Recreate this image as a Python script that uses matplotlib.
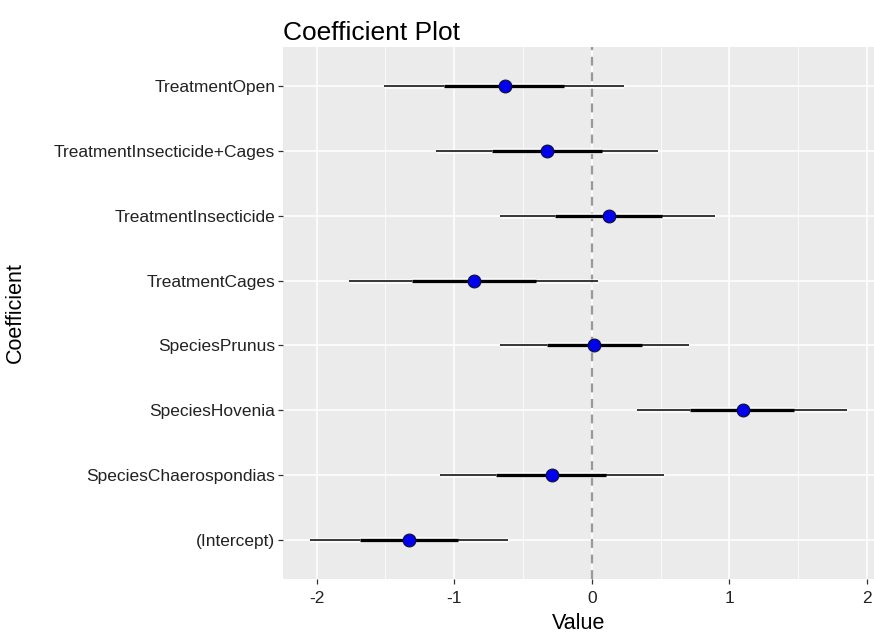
import matplotlib.pyplot as plt
import matplotlib.patheffects as pe
import numpy as np

plt.rcParams["font.family"] = ["Liberation Sans", "DejaVu Sans"]
plt.rcParams["axes.unicode_minus"] = False

# coefficient estimates, bottom to top
coefs = ["(Intercept)", "SpeciesChaerospondias", "SpeciesHovenia", "SpeciesPrunus",
         "TreatmentCages", "TreatmentInsecticide", "TreatmentInsecticide+Cages", "TreatmentOpen"]
value = [-1.326, -0.29, 1.096, 0.019, -0.858, 0.126, -0.323, -0.633]
inner_lo = [-1.688, -0.699, 0.712, -0.326, -1.31, -0.268, -0.729, -1.071]
inner_hi = [-0.973, 0.104, 1.471, 0.367, -0.403, 0.512, 0.077, -0.2]
outer_lo = [-2.049, -1.101, 0.326, -0.666, -1.767, -0.666, -1.134, -1.507]
outer_hi = [-0.608, 0.521, 1.855, 0.704, 0.047, 0.896, 0.479, 0.233]

fig = plt.figure(figsize=(8.74, 6.36), dpi=100)
ax = fig.add_axes([283 / 874, 1 - 579 / 636, 1 - 283 / 874, (579 - 47) / 636])
ax.set_facecolor("#EBEBEB")

y = np.arange(len(coefs))
halo = [pe.Stroke(linewidth=3.5, foreground="white", alpha=0.7), pe.Normal()]
halo2 = [pe.Stroke(linewidth=4.5, foreground="white", alpha=0.7), pe.Normal()]
ax.hlines(y, outer_lo, outer_hi, color="black", lw=1.1, zorder=3, path_effects=halo)
ax.hlines(y, inner_lo, inner_hi, color="black", lw=2.4, zorder=4, path_effects=halo2)
ax.axvline(0, color="#999999", lw=1.6, ls=(0, (4, 3)), zorder=2)
ax.scatter(value, y, s=85, color="#0000EE", edgecolor="#101030", linewidth=0.8, zorder=5)

ax.set_xlim(-2.244, 2.05)
ax.set_ylim(-0.6, len(coefs) - 0.4)
ax.set_xticks([-2, -1, 0, 1, 2])
ax.set_xticks([-1.5, -0.5, 0.5, 1.5], minor=True)
ax.set_yticks(y)
ax.set_yticklabels(coefs)

ax.grid(which="major", color="white", lw=1.1, zorder=0)
ax.grid(which="minor", axis="x", color="white", lw=0.55, zorder=0)
ax.set_axisbelow(True)
for s in ax.spines.values():
    s.set_visible(False)
ax.tick_params(which="major", length=3.5, width=0.9, color="#333333",
               labelsize=12.5, labelcolor="#222222", pad=2)
ax.tick_params(axis="x", which="major", pad=5)
ax.tick_params(which="minor", length=0)

ax.set_xlabel("Value", fontsize=15.5, color="black", labelpad=5)
ax.set_ylabel("Coefficient", fontsize=15.5, color="black", labelpad=20)
ax.set_title("Coefficient Plot", fontsize=19, loc="left", pad=5)

fig.savefig("out.png", dpi=100)
